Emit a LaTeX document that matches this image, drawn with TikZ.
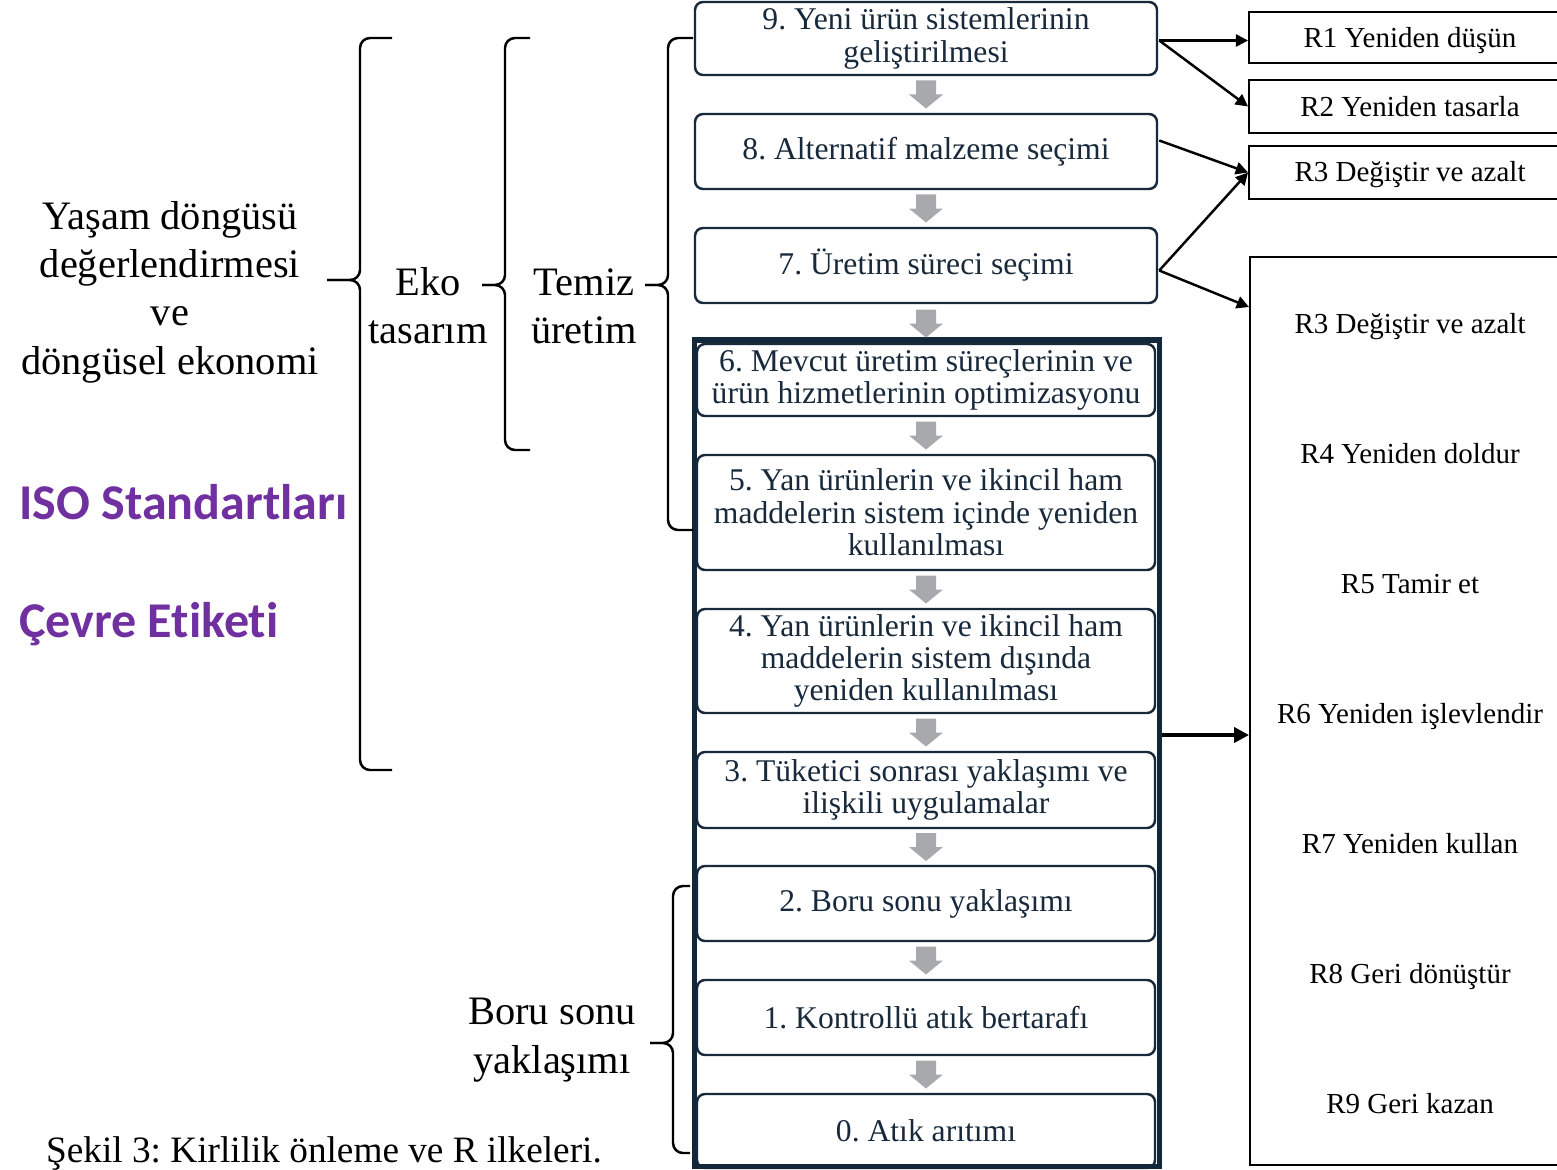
\documentclass[tikz,border=0pt]{standalone}
\usepackage{fontspec}
\setmainfont{Liberation Serif}
\newfontfamily\labelsans[RawFeature={-liga}]{Carlito}
\usetikzlibrary{arrows.meta,calc}
\newdimen\px \px=0.02cm
\definecolor{navy}{HTML}{17293B}
\definecolor{framenavy}{HTML}{12273A}
\definecolor{stepgray}{HTML}{A8A9AD}
\definecolor{isopurple}{HTML}{7030A0}

% left curly brace: line at x=#1, from y=#2 to y=#3, ends reach x=#4, tip at (#5,#6)
\newcommand\curlybrace[6]{%
  \draw[bracepen] (#4,#2) -- (#1,#2) -- (#1,#6) -- (#5,#6);
  \draw[bracepen] (#4,#3) -- (#1,#3) -- (#1,#6) -- (#5,#6);}

% grey block arrow pointing down, centred between two boxes
\newcommand\steparrow[2]{%
  \fill[stepgray] ($(#1.south)!0.5!(#2.north)$) ++(-10,-14) -- ++(20,0) -- ++(0,14)
    -- ++(7,0) -- ++(-17,14) -- ++(-17,-14) -- ++(7,0) -- cycle;}

\begin{document}
\frenchspacing
\begin{tikzpicture}[x=0.02cm,y=-0.02cm,
  stepbox/.style={draw=navy, line width=1.4pt, rounded corners=8\px, fill=white,
    text=navy, align=center, inner sep=0pt, font=\fontsize{18}{18.4}\selectfont},
  rbox/.style={draw=black, line width=1.1pt, inner sep=0pt},
  rlabel/.style={anchor=base, font=\fontsize{16.5}{18}\selectfont},
  conn/.style={line width=1.4pt, -{Triangle[length=7pt,width=7pt]}},
  bigconn/.style={line width=2.6pt, -{Triangle[length=8.5pt,width=8.5pt]}},
  bracepen/.style={line width=1.4pt, rounded corners=0.2cm, line join=round},
  sidetext/.style={align=center, font=\fontsize{23}{27.5}\selectfont},
  purpletext/.style={anchor=west, text=isopurple, font=\labelsans\bfseries\fontsize{28.5}{30}\selectfont}]

\useasboundingbox (0,0) rectangle (1557,1169);
\clip (0,0) rectangle (1557,1169);

% steps 9 to 7
\node[stepbox, minimum width=462\px, minimum height=73\px] (b9) at (926,38.5)
  {9. Yeni ürün sistemlerinin\\geliştirilmesi};
\node[stepbox, minimum width=462\px, minimum height=75\px] (b8) at (926,151.5)
  {8. Alternatif malzeme seçimi};
\node[stepbox, minimum width=462\px, minimum height=75\px] (b7) at (926,265.5)
  {7. Üretim süreci seçimi};

% steps 6 to 0 inside the framed block
\node[stepbox, minimum width=458\px, minimum height=72\px] (b6) at (926,380)
  {6. Mevcut üretim süreçlerinin ve\\ürün hizmetlerinin optimizasyonu};
\node[stepbox, minimum width=458\px, minimum height=115\px] (b5) at (926,512.5)
  {5. Yan ürünlerin ve ikincil ham\\maddelerin sistem içinde yeniden\\kullanılması};
\node[stepbox, minimum width=458\px, minimum height=104\px] (b4) at (926,661)
  {4. Yan ürünlerin ve ikincil ham\\maddelerin sistem dışında\\yeniden kullanılması};
\node[stepbox, minimum width=458\px, minimum height=76\px] (b3) at (926,790)
  {3. Tüketici sonrası yaklaşımı ve\\ilişkili uygulamalar};
\node[stepbox, minimum width=458\px, minimum height=75\px] (b2) at (926,903.5)
  {2. Boru sonu yaklaşımı};
\node[stepbox, minimum width=458\px, minimum height=75\px] (b1) at (926,1017.5)
  {1. Kontrollü atık bertarafı};
\node[stepbox, minimum width=458\px, minimum height=74\px] (b0) at (926,1131)
  {0. Atık arıtımı};

\node[draw=framenavy, line width=2.85pt, minimum width=465\px, minimum height=826\px,
  inner sep=0pt] (frame) at (926.5,753) {};

% grey step arrows
\foreach \a/\b in {b9/b8,b8/b7,b7/b6,b6/b5,b5/b4,b4/b3,b3/b2,b2/b1,b1/b0}
  {\steparrow{\a}{\b}}

% R principles
\node[rbox, minimum width=322\px, minimum height=51\px] (r1) at (1410,37.5) {};
\node[rbox, minimum width=322\px, minimum height=53\px] (r2) at (1410,106.5) {};
\node[rbox, minimum width=322\px, minimum height=53\px] (r3) at (1410,172.5) {};
\node[rbox, minimum width=321\px, minimum height=908\px] (rbig) at (1410.5,711) {};
\node[rlabel] (p1) at (1410,48) {R1 Yeniden düşün};
\node[rlabel] (p2) at (1410,117) {R2 Yeniden tasarla};
\node[rlabel] (p3) at (1410,182) {R3 Değiştir ve azalt};
\node[rlabel] (q3) at (1410,333) {R3 Değiştir ve azalt};
\node[rlabel] (q4) at (1410,463) {R4 Yeniden doldur};
\node[rlabel] (q5) at (1410,593) {R5 Tamir et};
\node[rlabel] (q6) at (1410,723) {R6 Yeniden işlevlendir};
\node[rlabel] (q7) at (1410,853) {R7 Yeniden kullan};
\node[rlabel] (q8) at (1410,983) {R8 Geri dönüştür};
\node[rlabel] (q9) at (1410,1113) {R9 Geri kazan};

% connectors to the R principles
\coordinate (s9) at ($(b9.east)+(1,2)$);
\coordinate (s8) at ($(b8.east)+(1,-11)$);
\coordinate (s7) at ($(b7.east)+(1,5)$);
\coordinate (rin) at ($(rbig.north west)+(0,51)$);
\draw[conn] (s9) -- (s9 -| r1.west);
\draw[conn] (s9) -- (r2.west);
\draw[conn] (s8) -- (r3.west);
\draw[conn] (s7) -- (r3.west);
\draw[conn] (s7) -- (rin);
\coordinate (sf) at ($(frame.east)+(0,-18)$);
\draw[bigconn] (sf) -- (sf -| rbig.west);

% braces
\curlybrace{360}{38}{770}{392}{327}{280}
\curlybrace{505}{38}{450}{530}{482}{285}
\curlybrace{668}{38}{530}{693}{645}{285}
\curlybrace{673}{886}{1153}{690}{650}{1043}

% side labels
\node[sidetext] (lca) at (170,292) {Yaşam döngüsü\\değerlendirmesi\\ve\\döngüsel ekonomi};
\node[sidetext] (eko) at (428,306) {Eko\\tasarım};
\node[sidetext] (temiz) at (584,306) {Temiz\\üretim};
\node[sidetext] (boru) at (552,1040) {Boru sonu\\yaklaşımı};
\node[purpletext] (iso) at (13,502) {ISO Standartları};
\node[purpletext] (etiket) at (13,624) {Çevre Etiketi};
\node[anchor=west, font=\fontsize{21.2}{24}\selectfont] (caption) at (40,1154)
  {Şekil 3: Kirlilik önleme ve R ilkeleri.};

\end{tikzpicture}
\end{document}
